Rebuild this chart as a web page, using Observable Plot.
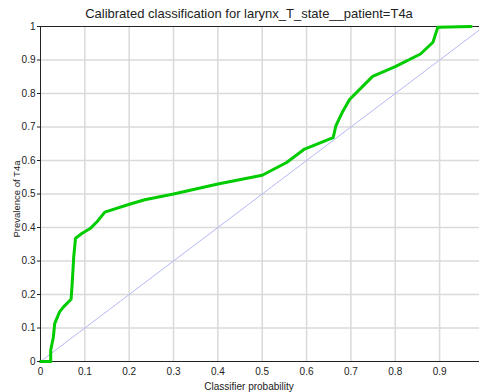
<!DOCTYPE html>
<html>
<head>
<meta charset="utf-8">
<script src="https://cdn.jsdelivr.net/npm/d3@7"></script>
<script src="https://cdn.jsdelivr.net/npm/@observablehq/plot@0.6"></script>
<style>
  html, body { margin: 0; padding: 0; background: #fff; }
  #chart svg { display: block; }
</style>
</head>
<body>
<div id="chart"></div>
<script>
const titleText = "Calibrated classification for larynx_T_state__patient=T4a";
const xLabel = "Classifier probability";
const yLabel = "Prevalence of T4a";

const probability = [0, 0.023, 0.023, 0.029, 0.032, 0.043, 0.052, 0.069, 0.071, 0.075, 0.079, 0.094, 0.113, 0.128, 0.145, 0.197, 0.235, 0.3, 0.4, 0.5, 0.555, 0.594, 0.66, 0.666, 0.681, 0.697, 0.749, 0.8, 0.857, 0.885, 0.896, 0.971];
const prevalence  = [0, 0, 0.033, 0.073, 0.113, 0.148, 0.163, 0.186, 0.223, 0.313, 0.368, 0.383, 0.398, 0.418, 0.446, 0.468, 0.483, 0.5, 0.53, 0.556, 0.594, 0.633, 0.668, 0.703, 0.745, 0.782, 0.851, 0.88, 0.918, 0.953, 0.998, 1.0];

const diagonal = [0, 1];
const xTicks = [0, 0.1, 0.2, 0.3, 0.4, 0.5, 0.6, 0.7, 0.8, 0.9];
const yTicks = [0, 0.1, 0.2, 0.3, 0.4, 0.5, 0.6, 0.7, 0.8, 0.9, 1];
const gridX = xTicks.filter(d => d > 0);
const gridY = yTicks.filter(d => d > 0 && d < 1);

const curve = probability.map((p, i) => ({p, v: prevalence[i]}));
const fmt = d => (d === 0 ? "0" : d === 1 ? "1" : d.toFixed(1));

const chart = Plot.plot({
  width: 479,
  height: 392,
  marginLeft: 40,
  marginRight: 0,
  marginTop: 26,
  marginBottom: 31,
  style: {fontFamily: "'Liberation Sans', Arial, sans-serif", fontSize: "10px", color: "#222", background: "#fff"},
  x: {domain: [0, 0.99], ticks: xTicks, tickFormat: fmt, label: null},
  y: {domain: [0, 1], ticks: yTicks, tickFormat: fmt, label: null},
  marks: [
    Plot.ruleX(gridX, {stroke: "#dadada", strokeWidth: 1.5}),
    Plot.ruleY(gridY, {stroke: "#dadada", strokeWidth: 1.5}),
    Plot.line(diagonal, {x: d => d, y: d => d, stroke: "#b4b8f4", strokeWidth: 1, clip: true}),
    Plot.ruleX([0], {stroke: "#222", strokeWidth: 1}),
    Plot.ruleY([0], {stroke: "#222", strokeWidth: 1}),
    Plot.ruleY([1], {stroke: "#222", strokeWidth: 1}),
    Plot.line(curve, {x: "p", y: "v", stroke: "#00cc00", strokeWidth: 3, strokeLinejoin: "round"}),
    Plot.axisX({ticks: xTicks, tickFormat: fmt, tickSize: 0, tickPadding: 6, label: null, fontSize: 10}),
    Plot.axisY({ticks: yTicks, tickFormat: fmt, tickSize: 3, tickPadding: 2, label: null, fontSize: 10}),
    Plot.text([titleText], {frameAnchor: "top", dx: -11, dy: -18, fontSize: 13, fill: "#222"}),
    Plot.text([xLabel], {frameAnchor: "bottom", dx: -11, dy: 28, fontSize: 10, fill: "#222"}),
    Plot.text([yLabel], {frameAnchor: "left", textAnchor: "middle", dx: -24, dy: 5, rotate: -90, fontSize: 9.5, fill: "#222"})
  ]
});
document.getElementById("chart").appendChild(chart);
</script>
</body>
</html>
